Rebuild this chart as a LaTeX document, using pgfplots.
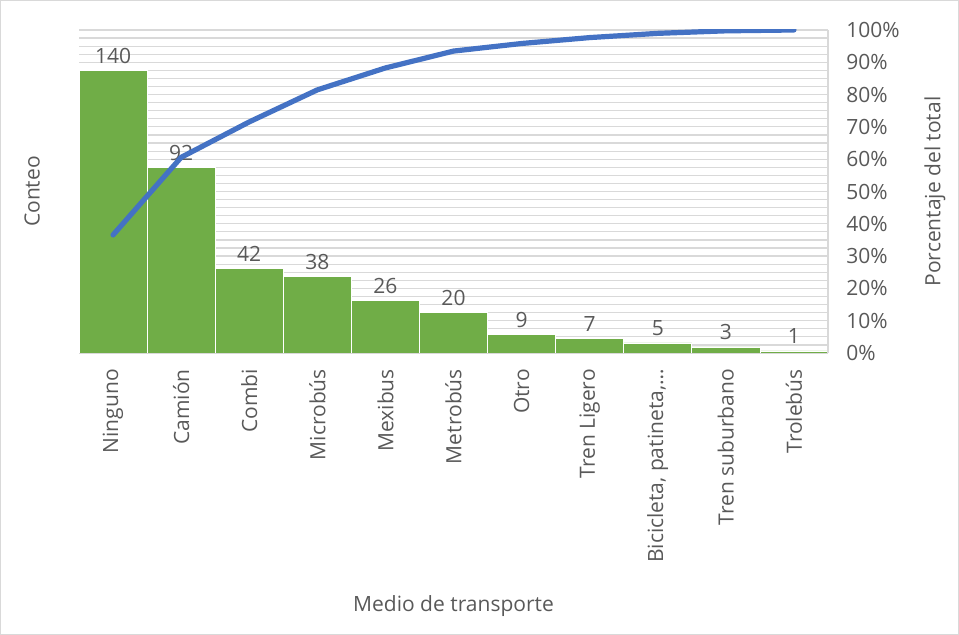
\documentclass[border=0pt]{standalone}
\usepackage{fontspec}
\setmainfont{Open Sans}
\usepackage{pgfplots}
\pgfplotsset{compat=1.18}
\definecolor{barfill}{HTML}{70AD47}
\definecolor{linecol}{HTML}{4472C4}
\definecolor{txt}{HTML}{595959}
\definecolor{gridc}{HTML}{D9D9D9}

\begin{document}
\begin{tikzpicture}
\pgfplotsset{
  base/.style={
    at={(39.5bp,141bp)}, anchor=south west,
    scale only axis, width=374.5bp, height=161.5bp,
    xmin=-0.5, xmax=10.5,
    font=\fontsize{10.5bp}{12.5bp}\selectfont,
    major tick length=0pt,
    /pgf/number format/assume math mode=true,
  }
}
% ---- bars (count) ----
\begin{axis}[base,
  ymin=0, ymax=160, ytick distance=4, yticklabels={},
  ymajorgrids, grid style={gridc, line width=0.6bp},
  axis x line*=bottom, axis y line*=left,
  x axis line style={gridc, line width=0.7bp},
  y axis line style={draw=none},
  xtick={0,...,10},
  xticklabels={Ninguno, Camión, Combi, Microbús, Mexibus, Metrobús, Otro,
    Tren Ligero, {Bicicleta, patineta,…}, Tren suburbano, Trolebús},
  xticklabel style={yshift=-4.6bp, rotate=90, anchor=east, text=txt},
  xlabel={Medio de transporte},
  every axis x label/.style={at={(axis description cs:0.5,0)}, yshift=-126.5bp, anchor=center, text=txt},
  ylabel={Conteo},
  every axis y label/.style={at={(axis description cs:0,0.5)}, xshift=-23.5bp, rotate=90, anchor=center, text=txt},
  ybar, bar width=34.05bp,
  nodes near coords,
  every node near coord/.append style={text=txt, font=\fontsize{10.5bp}{12.5bp}\selectfont},
]
\addplot[fill=barfill, draw=white, line width=0.4bp] coordinates {
  (0,140) (1,92) (2,42) (3,38) (4,26) (5,20) (6,9) (7,7) (8,5) (9,3) (10,1)};
\end{axis}
% ---- cumulative percentage ----
\begin{axis}[base,
  ymin=0, ymax=100,
  hide x axis,
  axis y line*=right,
  y axis line style={gridc, line width=0.6bp},
  ytick={0,10,...,100},
  yticklabels={0\%,10\%,20\%,30\%,40\%,50\%,60\%,70\%,80\%,90\%,100\%},
  yticklabel style={text=txt, xshift=5.6bp},
  ylabel={Porcentaje del total},
  every axis y label/.style={at={(axis description cs:1,0.5)}, xshift=53.5bp, rotate=90, anchor=center, text=txt},
]
\addplot[linecol, line width=2.6bp, line cap=round, line join=round] coordinates {
  (0,36.55) (1,60.57) (2,71.54) (3,81.46) (4,88.25) (5,93.47)
  (6,95.82) (7,97.65) (8,98.96) (9,99.74) (10,100)};
\end{axis}
\draw[gridc, line width=0.5bp] (0.25bp,0.25bp) rectangle (479.25bp,317.25bp);
\pgfresetboundingbox
\path[use as bounding box] (0,0) rectangle (479.5bp,317.5bp);
\end{tikzpicture}
\end{document}
